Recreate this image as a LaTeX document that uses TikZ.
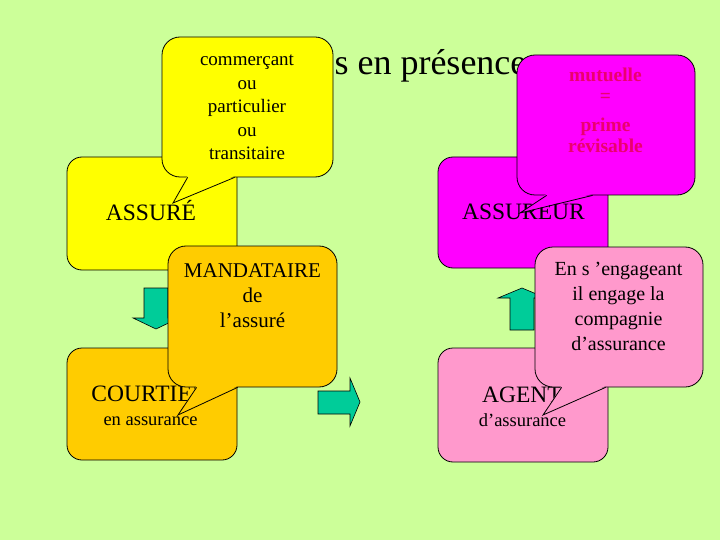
\documentclass[tikz,border=0pt]{standalone}
\usepackage{fontspec}
\setmainfont{Liberation Serif}
\usetikzlibrary{calc}

\definecolor{fond}{RGB}{204,255,153}
\definecolor{jaune}{RGB}{255,255,0}
\definecolor{magentaC}{RGB}{255,0,255}
\definecolor{orangeC}{RGB}{255,204,0}
\definecolor{roseC}{RGB}{255,153,204}
\definecolor{vertC}{RGB}{0,204,153}
\definecolor{rougeT}{RGB}{235,0,110}

\begin{document}
\begin{tikzpicture}[x=1pt,y=-1pt,
    boite/.style={draw=black,line width=0.8pt,rounded corners=15pt,inner sep=0pt},
    bulle/.style={draw=black,line width=0.8pt,rounded corners=18pt,inner sep=0pt},
    fleche/.style={draw=black,line width=0.6pt,fill=vertC},
    grand/.style={font=\fontsize{23.5}{28}\selectfont,anchor=base},
    petit/.style={font=\fontsize{18.5}{22}\selectfont,anchor=base}]

    % === Fond ===
    \useasboundingbox (0,0) rectangle (720,540);
    \fill[fond] (0,0) rectangle (720,540);

    % === Les quatre acteurs ===
    \node[boite,fill=jaune,minimum width=170pt,minimum height=113pt] (assure) at (152,213.5) {};
    \node[boite,fill=magentaC,minimum width=170pt,minimum height=111pt] (assureur) at (523,212.5) {};
    \node[boite,fill=orangeC,minimum width=170pt,minimum height=112pt] (courtier) at (152,404) {};
    \node[boite,fill=roseC,minimum width=170pt,minimum height=114pt] (agent) at (523,405) {};

    \node[grand] (tAssure) at (151,221) {ASSURÉ};
    \node[grand] (tAssureur) at (523.5,220) {ASSUREUR};
    \node[grand] (tCourtier) at (149.5,401) {COURTIER};
    \node[petit] (tCourtier2) at (150.5,425) {en assurance};
    \node[grand] (tAgent) at (522,402) {AGENT};
    \node[petit] (tAgent2) at (522.5,426) {d’assurance};

    % Fleches
    \draw[fleche] (144,288) -- (168,288) -- (168,318) -- (179,318) -- (156,329)
        -- (133,318) -- (144,318) -- cycle;
    \draw[fleche] (318,391) -- (350,391) -- (350,378) -- (360,402) -- (350,426)
        -- (350,414) -- (318,414) -- cycle;
    \draw[fleche] (510,330) -- (510,298) -- (498,298) -- (522,288) -- (546,298)
        -- (534,298) -- (534,330) -- cycle;

    % Titre
    \node[font=\fontsize{36}{40}\selectfont,anchor=base west] (titre) at (331,75) {s en présence};

    % === Bulles ===
    \node[bulle,fill=jaune,minimum width=171pt,minimum height=140pt] (bulleAssure) at (247.5,107) {};
    \coordinate (pointeAssure) at (173,203);
    \fill[jaune] ($(bulleAssure.south west)+(26,-1.5)$) -- (pointeAssure)
        -- ($(bulleAssure.south west)+(73,-1.5)$) -- cycle;
    \draw[line width=0.8pt] ($(bulleAssure.south west)+(26,0)$) -- (pointeAssure)
        -- ($(bulleAssure.south west)+(73,0)$);
    \node[font=\fontsize{19}{23.5}\selectfont,align=center,anchor=base] (tBulleAssure)
        at (247,160) {commerçant\\ou\\particulier\\ou\\transitaire};

    \node[bulle,fill=magentaC,minimum width=178pt,minimum height=140pt] (bulleAssureur) at (606,125) {};
    \coordinate (pointeAssureur) at (520,213);
    \fill[magentaC] ($(bulleAssureur.south west)+(30,-1.5)$) -- (pointeAssureur)
        -- ($(bulleAssureur.south west)+(76,-1.5)$) -- cycle;
    \draw[line width=0.8pt] ($(bulleAssureur.south west)+(30,0)$) -- (pointeAssureur)
        -- ($(bulleAssureur.south west)+(76,0)$);
    \node[font=\bfseries\fontsize{19.5}{21}\selectfont,text=rougeT,align=center,anchor=base] (tBulleAssureur)
        at (605.5,153) {mutuelle\\=\\[8pt]prime\\révisable};

    \node[bulle,fill=orangeC,minimum width=169pt,minimum height=141pt] (bulleCourtier) at (252.5,316.5) {};
    \coordinate (pointeCourtier) at (178,415);
    \fill[orangeC] ($(bulleCourtier.south west)+(29,-1.5)$) -- (pointeCourtier)
        -- ($(bulleCourtier.south west)+(70,-1.5)$) -- cycle;
    \draw[line width=0.8pt] ($(bulleCourtier.south west)+(29,0)$) -- (pointeCourtier)
        -- ($(bulleCourtier.south west)+(70,0)$);
    \node[font=\fontsize{21}{25}\selectfont,align=center,anchor=base] (tBulleCourtier)
        at (252.5,327) {MANDATAIRE\\de\\l’assuré};

    \node[bulle,fill=roseC,minimum width=168pt,minimum height=140pt] (bulleAgent) at (619,317) {};
    \coordinate (pointeAgent) at (543,415);
    \fill[roseC] ($(bulleAgent.south west)+(27,-1.5)$) -- (pointeAgent)
        -- ($(bulleAgent.south west)+(71,-1.5)$) -- cycle;
    \draw[line width=0.8pt] ($(bulleAgent.south west)+(27,0)$) -- (pointeAgent)
        -- ($(bulleAgent.south west)+(71,0)$);
    \node[font=\fontsize{20}{25}\selectfont,align=center,anchor=base] (tBulleAgent)
        at (618.5,350) {En s ’engageant\\il engage la\\compagnie\\d’assurance};
\end{tikzpicture}
\end{document}
